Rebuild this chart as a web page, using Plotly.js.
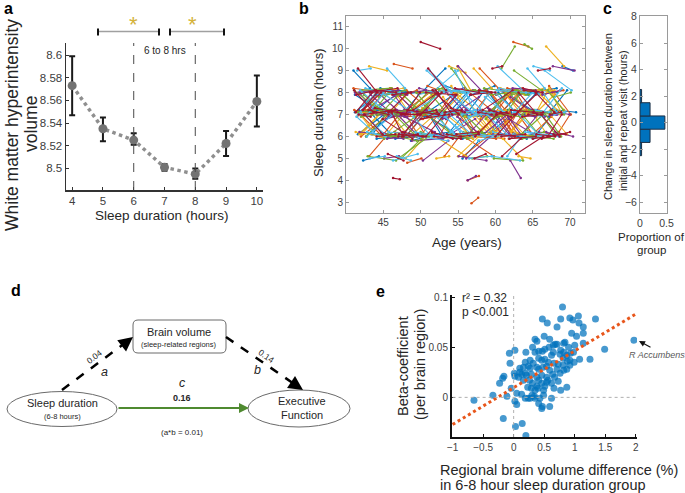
<!DOCTYPE html>
<html><head><meta charset="utf-8">
<script src="https://cdn.plot.ly/plotly-3.0.1.min.js"></script>
<style>html,body{margin:0;padding:0;background:#fff}</style>
</head><body><div id="chart" style="width:685px;height:493px"></div>
<script>
// ---------- Panel a ----------
const sleepHours = [4,5,6,7,8,9,10];
const wmhVolume  = [8.573,8.535,8.525,8.501,8.495,8.522,8.559];
const wmhErrUp   = [0.026,0.010,0.006,0.003,0.005,0.011,0.023];
const wmhErrDown = [0.026,0.011,0.004,0.003,0.004,0.011,0.022];
const aYTicks = [8.5,8.52,8.54,8.56,8.58,8.6];
const aYTickText = ['8.5','8.52','8.54','8.56','8.58','8.6'];

// ---------- Panel b (start age, years between visits, sleep at visit 1, sleep at visit 2) ----------
const ageStart = [
41.2,55.3,62.1,47.8,44.0,58.6,66.2,50.4,43.1,60.7,52.9,45.6,64.3,48.2,56.8,41.9,61.5,53.4,67.0,46.3,59.2,42.7,50.9,63.8,55.0,44.8,57.7,65.4,49.1,41.5,60.1,52.2,47.0,62.9,54.6,43.6,58.0,66.8,51.3,45.1,
56.4,42.3,61.0,48.9,64.9,53.0,44.4,59.9,50.0,67.5,41.0,57.1,46.9,62.5,52.6,43.9,60.4,55.7,48.5,65.8,42.0,58.9,51.8,63.2,45.9,54.1,61.8,47.4,66.4,50.7,41.7,59.5,53.8,44.2,62.2,49.6,46.3,64.6,46.1,55.9,
43.4,63.5,51.1,58.3,46.6,60.9,41.4,54.9,67.9,49.3,62.7,44.6,57.9,52.0,65.1,47.6,59.6,42.5,55.5,61.3,50.2,45.4,63.9,53.6,41.1,58.8,48.0,66.0,56.1,43.0,60.2,51.5,64.0,46.4,54.3,62.0,49.9,42.2,57.3,68.2,
60.6,45.3,53.2,41.6,64.4,56.7,48.7,62.6,43.8,58.4,51.0,66.6,44.9,55.2,61.6,47.2,59.0,42.9,53.9,65.5,50.6,57.6,41.3,62.0,46.0,54.4,60.0,48.4,67.2,52.4,44.1,60.8,62.4,49.0,55.6,42.1,61.1,47.9,65.9,51.9,
47.1,59.3,42.6,54.7,63.3,50.5,44.3,61.9,56.0,48.1,65.2,41.8,58.5,52.8,62.8,45.8,57.0,66.9,43.3,53.5,60.3,49.5,41.2,64.7,55.4,46.7,59.8,51.2,63.6,44.5,56.9,48.3,56.3,42.4,54.0,66.1,50.1,58.2,45.0,62.3,
52.5,41.9,60.8,47.5,56.2,64.1,43.7,58.7,50.8,62.1,45.2,55.8,67.3,48.8,59.4,42.8,53.3,61.7,46.5,57.2,50.3,63.4,44.7,54.8,60.5,56.8,57.8,49.8,65.0,52.1,50.0,59.1,47.3,62.8,55.1,66.5,45.7,51.6,58.9,42.0,
61.4,44.0,55.0,49.2,63.7,41.6,57.5,52.7,66.3,46.2,59.7,43.2,54.2,62.4,48.6,65.6,41.1,56.5,50.0,60.9,44.8,53.1,67.7,47.7,58.6,42.4,61.9,51.4,64.8,45.5,55.9,49.4,63.1,43.6,56.3,59.0,46.8,52.3,65.3,41.3,
42.1,48.3,53.7,59.2,64.6,45.5,50.9,56.3,61.8,67.2,43.8,49.2,54.6,60.1,65.5,46.7,52.1,57.6,63.0,41.4,47.9,53.3,58.8,64.2,44.6,50.0,55.5,60.9,66.3,42.9,48.8,54.2,59.7,65.1,46.1,51.5,57.0,62.4,68.0,44.2,
57.9,41.7,63.3,49.6,55.0,68.4,46.0,60.5,52.4,44.1,66.0,58.1,50.6,62.7,47.2,54.0,41.0,61.2,56.7,45.1,67.4,51.8,59.6,43.5,64.9,53.0,48.1,62.0,42.6,57.2,65.8,50.3,46.6,60.0,55.7,41.9,63.8,52.9,48.4,58.7,
45.8,61.5,53.9,43.0,66.7,50.1,58.4,41.3,63.6,55.9,47.6,69.0,52.2,60.2,44.9,57.3,49.0,64.4,42.3,54.7,62.9,46.4,59.0,51.2,67.0,43.7,56.1,61.0,48.7,65.2,41.6,53.5,58.9,45.0,63.1,50.8,55.3,42.8,60.7,47.3,
63.9,44.5,56.6,49.9,41.5,60.4,53.1,67.6,46.3,58.0,42.7,64.8,51.0,55.6,47.8,61.9,43.3,66.1,52.6,57.8,45.3,62.3,49.3,41.8,59.9,54.4,65.0,47.0,60.8,43.9,56.0,50.4,67.9,45.6,53.8,62.6,48.0,58.3,42.0,64.1,
50.7,42.5,59.4,65.3,47.1,55.2,61.6,44.0,52.8,68.5,57.5,41.2,63.4,49.7,46.9,54.5,60.6,43.1,66.6,51.6,58.6,45.7,62.1,48.2,41.9,56.4,64.5,53.4,47.4,59.1,44.4,67.1,50.0,61.3,55.8,42.2,63.0,48.9,57.1,45.9,
43.6,66.4,55.4,48.5,60.3,41.8,57.0,52.3,64.0,46.2,59.8,44.8,62.8,50.5,56.9,42.4,65.7,53.6,47.7,61.4,45.4,58.2,51.4,67.3,43.4,60.0,54.9,49.5,63.6,46.8,41.4,56.2,62.0,50.2,58.8,44.3,65.4,52.0,48.0,61.1,
58.5,44.7,51.9,62.5,47.5,65.9,41.1,55.1,60.7,49.1,43.2,57.7,64.3,52.5,46.5,61.7,54.1,42.9,67.8,50.9,59.3,45.2,63.2,48.6,56.5,41.6,62.2,53.2,46.0,66.8,49.4,58.1,44.1,60.1,55.0,42.1,64.7,51.2,57.4,47.0];
const visitGap = [
2.8,3.5,2.2,4.1,3.0,2.5,3.8,4.5,2.0,3.2,2.6,3.9,2.3,4.2,3.1,2.7,3.6,4.4,2.1,3.3,2.9,3.7,2.4,4.0,3.4,2.2,3.8,2.5,4.3,3.0,2.6,3.5,4.1,2.8,3.2,2.0,3.9,2.4,3.6,4.2,
3.1,2.4,3.9,2.7,2.2,4.3,3.5,2.9,3.8,2.1,4.0,3.2,2.5,3.7,2.8,4.4,2.3,3.3,3.0,2.6,4.1,2.9,3.6,2.4,3.4,2.0,3.8,2.7,2.5,3.9,4.2,3.0,2.2,3.5,2.9,4.0,0.9,2.6,3.3,3.7,
3.6,2.9,2.3,4.0,3.3,2.6,4.5,3.1,2.2,3.8,2.7,3.4,2.5,4.1,3.0,2.8,3.7,2.4,3.9,2.1,3.2,4.2,1.0,3.5,2.6,3.0,4.3,2.7,3.6,2.3,3.9,2.8,3.4,2.5,4.0,3.1,2.2,3.7,2.9,2.6,
2.5,3.7,3.0,2.3,4.1,2.8,3.4,2.6,3.9,3.2,2.4,3.6,4.0,2.9,2.7,3.3,2.2,3.8,3.1,2.5,4.2,2.6,3.5,1.4,2.8,3.9,3.0,2.4,2.9,3.6,4.1,1.8,2.7,3.3,2.2,3.8,3.0,2.5,3.4,3.1,
3.3,2.6,3.8,3.0,2.4,4.0,2.9,3.5,2.2,3.9,2.7,3.2,4.3,2.5,3.6,2.8,3.1,2.3,4.1,2.9,3.4,2.6,3.7,2.8,3.0,2.4,3.9,3.3,2.7,3.5,2.2,3.8,1.1,2.9,3.6,2.5,3.2,4.0,2.6,3.1,
2.7,3.9,3.2,2.5,3.6,2.4,4.1,2.8,3.3,3.0,2.6,3.7,2.3,4.0,2.9,3.5,2.2,3.1,3.8,2.7,3.4,2.5,4.2,2.9,3.2,0.9,3.6,2.4,2.8,3.9,2.6,3.0,4.3,2.5,3.7,2.3,3.1,3.5,2.7,3.8,
3.4,2.8,3.1,3.9,2.6,3.5,2.3,4.0,2.4,3.2,2.9,3.7,2.5,2.0,3.6,2.7,4.1,3.0,2.8,3.3,2.2,3.8,2.9,3.5,2.6,4.2,3.0,2.4,3.1,3.6,2.7,3.9,2.5,3.4,1.5,3.0,2.8,3.3,2.6,2.2,
1.8,2.2,1.5,2.6,1.9,2.4,1.3,2.0,2.7,1.6,2.3,1.9,2.5,1.4,2.1,2.8,1.7,2.2,1.5,2.6,2.0,1.8,2.4,1.3,2.9,1.6,2.1,2.5,1.9,2.3,1.4,2.7,1.8,2.2,1.6,2.5,2.0,1.7,2.4,2.1,
2.2,1.6,2.5,1.9,2.8,1.5,2.1,1.8,2.4,2.6,1.7,2.3,2.0,1.4,2.7,1.9,2.2,1.6,2.5,2.0,1.8,2.4,1.3,2.8,2.1,1.7,2.6,1.9,2.3,1.5,2.0,2.4,1.8,2.2,2.6,1.4,2.5,1.9,2.1,1.7,
2.4,1.9,2.1,2.7,1.6,2.3,1.8,2.5,2.0,1.5,2.6,1.4,2.2,1.9,2.8,1.7,2.4,2.0,2.1,1.6,2.5,1.8,2.3,2.7,1.9,2.2,1.5,2.6,2.0,1.8,2.4,1.7,2.1,2.9,1.6,2.3,1.9,2.5,1.8,2.2,
1.7,2.3,2.0,2.6,1.8,2.2,2.5,1.5,2.1,1.9,2.7,1.6,2.4,2.0,1.8,2.3,2.6,1.9,1.7,2.2,2.5,1.8,2.1,2.4,1.6,2.0,2.3,2.8,1.7,2.2,1.9,2.5,1.4,2.1,2.4,1.8,2.6,2.0,2.3,1.7,
2.5,1.9,2.2,1.6,2.4,2.0,1.8,2.7,2.1,1.5,2.3,2.6,1.9,2.2,1.7,2.5,2.0,2.4,1.6,2.1,1.8,2.6,2.3,1.9,2.0,2.4,1.7,2.2,2.5,1.8,2.1,1.6,2.3,2.0,2.7,1.9,2.2,1.8,2.4,2.0,
2.1,1.8,2.4,2.0,1.6,2.6,2.2,1.9,2.3,2.5,1.7,2.1,2.4,1.8,2.0,2.7,1.6,2.2,2.5,1.9,2.3,1.7,2.0,1.5,2.6,2.1,1.8,2.4,2.2,1.9,2.5,2.0,1.7,2.3,2.1,2.6,1.8,2.2,2.4,1.9,
2.3,2.0,1.7,2.5,2.2,1.6,2.4,1.9,2.1,2.6,2.0,1.8,2.3,1.5,2.7,1.9,2.2,2.4,1.6,2.0,1.8,2.5,2.1,2.3,1.9,2.6,1.7,2.2,2.4,1.8,2.0,2.3,2.5,1.9,2.1,2.4,1.6,2.2,1.8,2.6];
const sleepVisit1 = [
7.1,8.0,6.2,6.9,7.3,7.8,5.9,7.0,5.1,8.2,6.8,6.1,9.1,7.2,7.9,7.0,6.3,6.8,8.1,4.9,7.2,6.0,8.3,6.9,9.2,7.1,5.8,8.0,7.3,6.9,6.2,7.9,5.0,7.1,8.2,6.1,6.8,10.1,7.0,5.9,
6.9,7.2,8.1,6.0,7.1,5.9,7.8,8.0,6.8,7.2,8.2,6.1,7.0,9.0,6.9,7.3,8.0,5.1,7.1,6.2,8.1,7.0,6.0,7.9,7.2,8.3,6.8,5.0,7.1,8.0,7.2,6.1,9.2,7.0,7.9,6.0,4.1,7.1,8.2,6.9,
8.0,6.1,7.0,7.2,5.9,8.1,7.1,6.9,7.8,6.2,7.0,8.2,9.1,6.0,7.2,7.9,5.1,7.0,6.1,8.0,7.3,6.8,10.2,7.1,8.1,6.0,6.9,7.9,5.0,7.2,8.1,6.2,7.0,9.3,6.1,7.8,7.1,8.0,6.0,7.2,
7.0,6.0,8.1,7.1,6.2,7.9,5.8,7.2,8.0,6.1,7.1,9.0,6.8,7.0,8.2,6.0,7.3,5.1,7.9,6.1,7.0,8.0,6.2,4.9,7.1,8.1,6.0,7.2,8.3,6.9,7.0,9.1,6.1,7.2,5.0,8.0,7.1,6.2,7.0,8.1,
6.1,7.0,7.2,8.0,6.0,7.1,7.9,5.9,6.9,8.1,7.0,6.2,8.2,7.1,5.2,7.0,6.0,8.1,7.2,6.1,9.2,7.0,7.9,6.0,7.1,8.0,5.0,7.2,6.9,8.1,6.0,7.1,4.0,7.9,6.2,7.0,8.0,6.1,7.2,8.2,
7.2,8.1,6.0,7.0,5.9,8.0,7.1,6.8,9.0,7.2,6.1,8.2,7.0,5.8,7.9,6.0,7.1,8.1,6.2,7.0,4.9,7.2,8.0,6.1,7.0,2.95,7.1,8.2,6.0,7.2,10.3,6.9,7.0,8.0,5.1,7.1,6.2,8.1,7.0,6.0,
8.0,7.1,6.0,7.2,8.2,6.1,7.0,5.9,7.9,7.1,6.2,8.0,7.0,10.3,6.0,7.2,8.1,5.0,7.0,6.1,7.9,7.1,9.2,6.0,8.0,7.0,6.2,7.2,8.1,5.9,7.0,6.1,8.0,7.1,4.0,6.9,7.2,8.2,6.0,7.1,
7.0,6.1,7.9,7.2,6.0,9.1,6.9,7.1,5.9,8.2,7.3,6.2,9.0,7.0,6.1,7.8,5.0,7.2,8.1,6.9,7.0,8.3,6.0,7.1,7.9,6.2,7.0,5.1,8.1,7.2,6.0,7.9,6.8,9.2,7.1,6.1,7.0,8.0,6.2,7.3,
6.1,7.0,7.2,8.0,5.1,7.1,6.0,8.2,7.0,5.9,7.9,6.2,7.1,8.1,6.0,7.3,9.0,6.1,7.0,5.0,7.2,6.9,9.1,7.0,6.0,7.8,6.1,7.2,8.2,5.0,7.0,6.8,8.0,7.1,6.2,7.0,8.1,6.0,7.2,6.9,
8.0,7.1,6.0,7.2,8.1,6.1,7.0,7.9,5.9,7.1,6.2,9.2,7.0,6.0,7.2,8.1,6.9,7.0,4.9,7.1,6.1,7.9,7.0,9.0,6.0,7.1,6.9,5.9,8.0,7.2,7.0,6.1,8.1,7.0,5.1,7.2,8.0,6.2,7.1,7.9,
7.2,6.0,7.9,7.0,9.0,6.1,7.1,8.0,6.9,7.2,6.0,7.0,9.1,5.9,7.1,6.2,7.9,7.0,6.0,8.1,7.0,6.1,7.2,8.0,6.9,7.1,5.9,8.1,7.0,6.1,7.2,8.0,7.0,5.2,7.1,8.1,5.0,7.0,6.9,8.0,
6.0,7.1,8.0,7.0,6.1,7.2,5.1,8.1,7.0,6.2,7.1,8.0,6.0,7.9,7.1,6.1,7.0,9.2,6.9,7.2,6.0,7.1,8.0,4.8,7.0,6.1,7.2,8.1,7.0,6.0,7.9,7.1,6.1,7.0,8.0,7.2,6.0,7.1,9.1,6.9,
7.1,8.0,6.0,7.2,7.0,6.1,8.1,7.0,6.2,7.9,7.1,6.0,8.0,7.2,5.0,7.0,9.0,6.1,7.1,7.9,6.0,7.2,8.0,7.0,6.1,7.1,9.2,6.0,7.0,5.1,7.9,7.1,6.2,8.0,7.0,6.1,7.2,8.1,6.0,7.0,
7.0,6.2,8.0,7.1,6.0,7.9,7.2,6.1,8.1,7.0,5.0,7.1,8.0,6.0,7.2,6.9,9.1,7.0,6.1,7.1,8.0,6.0,7.0,7.2,6.1,9.1,7.0,5.1,7.1,6.2,8.0,7.0,6.0,7.9,7.1,6.1,7.2,8.0,7.0,6.0];
const sleepVisit2 = [
7.9,8.1,7.0,6.2,7.0,7.1,6.2,8.0,5.9,7.9,7.1,5.8,8.2,7.0,8.3,6.1,6.0,7.8,7.2,5.2,6.9,7.1,8.0,7.2,8.0,7.9,6.1,7.1,6.8,8.0,7.0,8.2,6.0,6.1,8.0,7.2,7.9,9.2,7.2,6.9,
7.1,8.0,7.2,6.1,6.0,6.8,8.1,7.1,7.0,8.1,8.0,6.9,6.1,8.1,7.2,7.0,7.1,6.0,7.9,6.1,8.2,6.0,5.9,8.0,7.1,7.2,6.0,5.9,8.2,7.9,6.9,7.0,8.9,7.1,8.1,5.8,4.05,6.9,7.1,7.0,
8.1,7.0,6.9,8.1,6.0,7.2,7.0,6.1,8.0,6.0,7.9,8.0,8.2,5.1,7.0,7.0,4.9,6.1,6.2,8.2,7.1,7.2,10.0,6.0,7.1,6.9,7.0,7.1,6.1,7.0,8.0,5.9,7.1,9.1,6.0,7.1,8.0,8.1,7.0,7.1,
8.0,6.1,7.0,7.2,6.0,8.0,6.1,6.0,8.2,7.0,7.0,8.1,5.9,6.9,8.0,7.1,7.0,4.9,7.1,6.0,6.1,7.9,6.0,4.1,7.2,8.0,7.1,6.9,7.0,8.1,6.9,10.1,5.9,8.0,5.8,8.2,6.0,7.1,7.1,9.0,
6.0,8.1,7.0,7.1,7.0,6.0,8.0,6.0,7.1,7.0,7.9,6.1,8.0,6.2,6.0,7.1,5.9,7.2,8.0,5.9,8.1,7.2,7.1,6.9,7.0,7.2,4.9,6.1,7.0,8.0,6.1,8.0,4.2,7.0,7.1,6.0,9.1,6.0,7.0,8.1,
7.0,7.0,6.1,8.0,5.1,8.2,7.0,7.9,8.0,7.1,6.0,7.2,6.1,5.9,8.0,7.0,7.2,8.0,6.0,6.0,5.8,7.0,7.1,6.2,8.1,3.2,7.2,8.0,5.9,6.1,10.0,7.1,8.1,8.1,4.9,6.0,6.1,7.0,7.2,7.0,
7.1,7.0,6.2,8.0,8.0,7.0,6.9,6.1,8.1,6.0,6.0,8.2,7.9,10.1,7.1,7.0,7.0,5.1,8.0,5.9,8.0,6.0,9.0,6.1,7.1,7.2,6.0,7.0,8.1,6.0,6.1,6.0,7.0,8.0,4.2,7.0,7.1,8.0,6.1,8.0,
7.1,7.0,8.0,6.1,6.2,8.2,7.1,8.0,6.0,7.1,7.0,6.0,7.2,7.1,7.0,8.1,5.1,7.0,7.9,6.1,8.0,8.1,5.9,6.9,7.0,6.0,7.1,5.9,8.2,8.0,6.1,7.0,7.0,9.0,6.0,6.2,7.9,7.1,6.0,7.2,
6.0,6.9,8.1,8.0,6.0,7.0,6.1,8.1,7.9,6.0,8.0,7.1,7.0,7.9,6.1,7.1,8.2,7.0,6.1,5.1,7.0,7.1,9.2,6.0,6.1,7.0,6.0,7.1,8.0,5.2,7.2,7.0,7.1,6.0,6.1,8.0,8.0,5.9,7.0,6.0,
7.9,8.0,6.1,7.0,8.0,7.0,6.0,8.1,6.0,7.2,6.0,9.0,8.0,6.9,7.0,8.0,6.0,7.1,5.1,6.1,6.0,7.1,7.9,8.1,7.0,7.0,6.1,5.0,8.1,7.1,8.0,6.0,7.1,7.2,5.0,6.1,8.1,6.0,7.0,8.0,
7.0,6.1,8.0,8.1,9.1,6.0,7.0,8.1,6.0,7.1,7.0,6.9,8.1,6.1,6.1,7.0,7.1,6.1,6.2,8.0,7.2,6.0,7.0,7.0,7.1,8.0,6.0,8.0,6.1,6.0,7.0,8.2,7.1,4.9,8.0,7.1,6.0,6.9,7.0,7.9,
7.0,7.2,7.1,8.0,6.0,6.1,6.0,8.0,7.9,7.0,6.1,8.1,6.0,8.1,7.0,5.9,6.0,9.0,7.0,7.1,6.1,8.0,7.9,5.0,6.1,7.0,7.1,8.0,7.0,7.1,8.0,7.0,6.0,6.9,7.1,8.0,6.1,6.0,8.2,7.0,
8.0,7.1,6.1,6.9,7.1,7.0,8.0,6.0,6.0,8.0,7.0,6.9,8.1,7.0,5.1,6.1,9.1,7.0,7.2,7.1,5.9,7.0,8.1,7.1,6.0,8.0,8.1,6.1,6.1,4.9,8.1,7.0,7.0,7.9,6.1,6.0,7.1,7.0,7.0,6.1,
6.1,6.0,8.1,8.0,7.0,8.0,7.0,5.9,8.0,7.1,5.1,7.0,7.9,7.0,7.1,6.0,8.1,8.1,6.1,6.0,7.1,7.0,6.9,8.0,6.0,8.0,7.0,6.1,8.0,6.0,7.2,7.1,6.1,8.1,6.1,7.0,7.0,7.1,8.0,6.1];

// ---------- Panel c ----------
const changeBins = [-2,-1,0,1,2];
const changeProp = [0.03,0.19,0.47,0.19,0.03];

// ---------- Panel e ----------
const volDiff = [0.80,1.06,0.92,0.77,1.34,0.47,0.55,0.97,1.07,1.14,0.71,0.35,0.38,0.50,0.59,0.95,1.14,1.03,0.68,0.71,
0.82,0.84,1.00,1.14,1.49,1.97,0.02,-0.07,0.20,0.41,0.47,0.31,0.58,0.65,0.77,0.90,0.93,0.76,0.62,0.41,
0.46,0.51,0.57,0.81,1.08,1.25,0.99,0.88,0.92,0.81,0.73,0.66,-0.06,0.24,0.27,0.16,0.10,0.38,0.41,0.48,
0.54,0.59,0.71,0.87,0.01,0.02,0.08,0.13,0.21,0.29,0.38,0.46,0.54,0.64,-0.16,-0.18,-0.23,0.16,0.26,0.31,
0.38,0.46,0.54,0.73,0.87,0.77,0.66,0.51,0.23,0.29,-0.04,-0.11,-0.34,-0.65,0.05,0.13,0.19,0.27,0.34,0.49,
0.49,0.43,0.62,0.41,0.47,0.46,0.59,0.02,0.05,-0.17,0.14,0.03,0.20,0.30,0.35,0.40,0.56,0.62,0.67,0.76,
0.82,0.92,0.87,0.82,0.98,0.65,0.51,0.35,0.27,0.32,0.19,0.10,0.19,0.41,0.35,0.24];
const betaCoef = [0.090,0.081,0.079,0.078,0.078,0.078,0.074,0.077,0.074,0.070,0.070,0.058,0.056,0.061,0.058,0.064,0.064,0.061,0.053,0.053,
0.054,0.055,0.052,0.054,0.048,0.057,0.047,0.044,0.045,0.046,0.046,0.050,0.050,0.052,0.047,0.050,0.044,0.043,0.042,0.039,
0.037,0.038,0.035,0.039,0.038,0.038,0.035,0.036,0.032,0.032,0.033,0.034,0.034,0.031,0.029,0.030,0.029,0.030,0.028,0.030,
0.031,0.027,0.028,0.028,0.024,0.021,0.020,0.023,0.022,0.023,0.020,0.022,0.020,0.023,0.021,0.019,0.014,0.017,0.017,0.014,
0.011,0.014,0.015,0.016,0.010,0.007,0.009,0.011,0.010,0.009,0.009,0.001,0.002,-0.003,0.004,0.003,-0.001,-0.001,0.001,0.007,
0.002,-0.001,-0.001,-0.006,-0.009,-0.011,-0.009,-0.004,-0.007,-0.021,-0.026,-0.029,-0.038,0.002,0.007,0.009,0.017,0.014,0.020,0.024,
0.027,0.037,0.042,0.045,0.045,0.045,0.048,0.045,0.037,0.034,0.035,0.025,0.024,0.017,-0.001,-0.001];
const fitX = [-1, 2];
const fitY = [-0.027, 0.083];

// ---------- helpers ----------
const W = 685, H = 493;
const px = x => x / W, py = y => 1 - y / H;
const FONT = 'Liberation Sans, Arial, sans-serif';
const TXT = '#262626';
const matlab = ['#0072BD','#D95319','#EDB120','#7E2F8E','#77AC30','#4DBEEE','#A2142F'];

const traces = [];
// panel a
traces.push({
  type:'scatter', mode:'lines+markers', x:sleepHours, y:wmhVolume, xaxis:'x', yaxis:'y',
  line:{color:'#8f8f8f', width:3.5, dash:'dot'},
  marker:{color:'#737373', size:9},
  error_y:{type:'data', symmetric:false, array:wmhErrUp, arrayminus:wmhErrDown, color:'#1a1a1a', thickness:2, width:3},
  hoverinfo:'skip', showlegend:false
});
// panel b
const bx = matlab.map(()=>[]), by = matlab.map(()=>[]);
for (let i = 0; i < ageStart.length; i++) {
  const g = i % matlab.length;
  bx[g].push(ageStart[i], ageStart[i] + visitGap[i], null);
  by[g].push(sleepVisit1[i], sleepVisit2[i], null);
}
matlab.forEach((c, g) => traces.push({
  type:'scatter', mode:'lines+markers', x:bx[g], y:by[g], xaxis:'x2', yaxis:'y2',
  line:{color:c, width:1.1}, marker:{color:c, size:2.5}, connectgaps:false,
  hoverinfo:'skip', showlegend:false
}));
// panel c
traces.push({
  type:'bar', orientation:'h', y:changeBins, x:changeProp, width:1, xaxis:'x3', yaxis:'y3',
  marker:{color:'#0072BD', line:{color:'#1c2e44', width:1}}, hoverinfo:'skip', showlegend:false
});
// panel e
traces.push({
  type:'scatter', mode:'markers', x:volDiff, y:betaCoef, xaxis:'x4', yaxis:'y4',
  marker:{color:'rgba(0,114,189,0.72)', size:7}, hoverinfo:'skip', showlegend:false
});
traces.push({
  type:'scatter', mode:'lines', x:fitX, y:fitY, xaxis:'x4', yaxis:'y4',
  line:{color:'#E8561B', width:3, dash:'dot'}, hoverinfo:'skip', showlegend:false
});

function ax(o) {
  return Object.assign({showgrid:false, zeroline:false, showline:true, ticks:'inside', ticklen:3,
    linecolor:'#333', tickcolor:'#333', linewidth:1, fixedrange:true,
    tickfont:{family:FONT, size:10, color:'#404040'}}, o);
}

const ann = [];
function txt(x, y, text, o) {
  ann.push(Object.assign({xref:'paper', yref:'paper', x:px(x), y:py(y), text:text, showarrow:false,
    xanchor:'center', yanchor:'middle', font:{family:FONT, size:12, color:TXT}}, o || {}));
}
function arrow(hx, hy, axp, ayp, color, width, size) {
  ann.push({xref:'paper', yref:'paper', x:px(hx), y:py(hy), ax:axp, ay:ayp, text:'', showarrow:true,
    arrowhead:2, arrowsize:size || 1, arrowwidth:width, arrowcolor:color});
}
// panel letters
txt(8.5, 9, '<b>a</b>', {font:{family:FONT, size:16, color:'#000'}});
txt(304, 9, '<b>b</b>', {font:{family:FONT, size:16, color:'#000'}});
txt(607, 9, '<b>c</b>', {font:{family:FONT, size:16, color:'#000'}});
txt(16, 290, '<b>d</b>', {font:{family:FONT, size:16, color:'#000'}});
txt(380, 291, '<b>e</b>', {font:{family:FONT, size:16, color:'#000'}});
// panel a texts
txt(12, 125, 'White matter hyperintensity', {textangle:-90, font:{family:FONT, size:17.5, color:TXT}});
txt(31, 124, 'volume', {textangle:-90, font:{family:FONT, size:17.5, color:TXT}});
txt(162, 215, 'Sleep duration (hours)', {font:{family:FONT, size:13.5, color:TXT}});
txt(165, 51, '6 to 8 hrs', {font:{family:FONT, size:10, color:TXT}});
txt(133, 25, '*', {font:{family:FONT, size:22, color:'#D4B23A'}});
txt(192, 25, '*', {font:{family:FONT, size:22, color:'#D4B23A'}});
// panel b texts
txt(318, 113, 'Sleep duration (hours)', {textangle:-90, font:{family:FONT, size:13, color:TXT}});
txt(467, 242, 'Age (years)', {font:{family:FONT, size:13.5, color:TXT}});
// panel c texts
txt(608, 117, 'Change in sleep duration between', {textangle:-90, font:{family:FONT, size:11, color:TXT}});
txt(623, 121, 'initial and repeat visit (hours)', {textangle:-90, font:{family:FONT, size:11, color:TXT}});
txt(651, 237, 'Proportion of', {font:{family:FONT, size:11.5, color:TXT}});
txt(651, 250, 'group', {font:{family:FONT, size:11.5, color:TXT}});
// panel d texts
txt(62, 403, 'Sleep duration', {font:{family:FONT, size:11, color:TXT}});
txt(62, 416, '(6-8 hours)', {font:{family:FONT, size:7.5, color:TXT}});
txt(302, 401, 'Executive', {font:{family:FONT, size:11, color:TXT}});
txt(302, 415, 'Function', {font:{family:FONT, size:11, color:TXT}});
txt(179, 332, 'Brain volume', {font:{family:FONT, size:11, color:TXT}});
txt(179, 344, '(sleep-related regions)', {font:{family:FONT, size:7.5, color:TXT}});
txt(94, 357, '0.04', {textangle:-37, font:{family:FONT, size:8.5, color:TXT}});
txt(104, 372, '<i>a</i>', {font:{family:FONT, size:12.5, color:TXT}});
txt(266, 356, '0.14', {textangle:35, font:{family:FONT, size:8.5, color:TXT}});
txt(257, 370, '<i>b</i>', {font:{family:FONT, size:12.5, color:TXT}});
txt(182, 383, '<i>c</i>', {font:{family:FONT, size:12.5, color:TXT}});
txt(182, 398, '<b>0.16</b>', {font:{family:FONT, size:9, color:TXT}});
txt(182, 432, '(a*b = 0.01)', {font:{family:FONT, size:8, color:TXT}});
arrow(133, 337, -9, 7, '#000', 2.5, 1.15);
arrow(303, 390, -9, -6, '#000', 2.5, 1.15);
arrow(249, 408, -132, 0, '#4f8a30', 2, 1);
// panel e texts
txt(460, 298, 'r² = 0.32', {xanchor:'left', font:{family:FONT, size:12, color:TXT}});
txt(460, 312, 'p &lt;0.001', {xanchor:'left', font:{family:FONT, size:12, color:TXT}});
txt(627, 355, '<i>R Accumbens</i>', {xanchor:'left', font:{family:FONT, size:9, color:'#595959'}});
arrow(639, 341, 13, 7, '#111', 1.2, 1);
txt(403, 366, 'Beta-coefficient', {textangle:-90, font:{family:FONT, size:14.5, color:TXT}});
txt(420, 365, '(per brain region)', {textangle:-90, font:{family:FONT, size:14.5, color:TXT}});
txt(438, 470, 'Regional brain volume difference (%)', {xanchor:'left', font:{family:FONT, size:14.5, color:TXT}});
txt(438, 484.5, 'in 6-8 hour sleep duration group', {xanchor:'left', font:{family:FONT, size:14.5, color:TXT}});

// shapes
const shapes = [];
function pline(x0,y0,x1,y1,color,width,dash) {
  shapes.push({type:'line', xref:'paper', yref:'paper', x0:px(x0), y0:py(y0), x1:px(x1), y1:py(y1),
    line:{color:color, width:width, dash:dash||'solid'}});
}
// panel a: 6-8 h guide lines
[6, 8].forEach(v => shapes.push({type:'line', xref:'x', yref:'paper', x0:v, x1:v, y0:py(190), y1:py(43),
  line:{color:'#4a4a4a', width:1, dash:'dash'}}));
// significance brackets
pline(98,31.5,159,31.5,'#a0a0a0',1.5); pline(98,28.5,98,35.5,'#111',2); pline(159,28.5,159,35.5,'#111',2);
pline(170,31.5,224,31.5,'#a0a0a0',1.5); pline(170,28.5,170,35.5,'#111',2); pline(224,28.5,224,35.5,'#111',2);
// panel e reference lines
shapes.push({type:'line', xref:'x4', yref:'y4', x0:0, x1:0, y0:-0.0395, y1:0.102, line:{color:'#b0b0b0', width:1, dash:'dot'}});
shapes.push({type:'line', xref:'x4', yref:'y4', x0:-1, x1:2, y0:0, y1:0, line:{color:'#b0b0b0', width:1, dash:'dot'}});
// panel d diagram
function ell(cx, cy, rx, ry) {
  shapes.push({type:'circle', xref:'paper', yref:'paper', x0:px(cx-rx), x1:px(cx+rx), y0:py(cy+ry), y1:py(cy-ry),
    line:{color:'#6a6a6a', width:1}, fillcolor:'rgba(0,0,0,0)'});
}
ell(62, 409, 55, 17.5);
ell(299, 408.5, 51, 18.5);
(function(){
  const x0=133,x1=226,y0=320,y1=353,r=5;
  const P=(x,y)=>px(x)+','+py(y);
  const path='M'+P(x0+r,y0)+' L'+P(x1-r,y0)+' Q'+P(x1,y0)+' '+P(x1,y0+r)+' L'+P(x1,y1-r)+' Q'+P(x1,y1)+' '+P(x1-r,y1)+
    ' L'+P(x0+r,y1)+' Q'+P(x0,y1)+' '+P(x0,y1-r)+' L'+P(x0,y0+r)+' Q'+P(x0,y0)+' '+P(x0+r,y0)+' Z';
  shapes.push({type:'path', xref:'paper', yref:'paper', path:path, line:{color:'#6a6a6a', width:1}, fillcolor:'rgba(0,0,0,0)'});
})();
pline(62,390,126.6,341.8,'#000',2.5,'dash');
pline(226,337,296.4,385.5,'#000',2.5,'dash');

const layout = {
  width:W, height:H, autosize:false, margin:{l:0,r:0,t:0,b:0},
  paper_bgcolor:'#fff', plot_bgcolor:'rgba(0,0,0,0)', showlegend:false,
  font:{family:FONT, color:TXT},
  xaxis: ax({domain:[px(66), px(263)], range:[3.8,10.2], tickvals:sleepHours, anchor:'y', linewidth:1.5,
    tickfont:{family:FONT, size:11.5, color:'#404040'}}),
  yaxis: ax({domain:[py(190), py(43)], range:[8.481,8.6106], tickvals:aYTicks, ticktext:aYTickText, anchor:'x', linewidth:1.5,
    tickfont:{family:FONT, size:11.5, color:'#404040'}}),
  xaxis2: ax({domain:[px(346), px(585)], range:[40,72], tickvals:[45,50,55,60,65,70], anchor:'y2', mirror:'ticks',
    linecolor:'#9a9a9a', tickcolor:'#9a9a9a'}),
  yaxis2: ax({domain:[py(213), py(16)], range:[2.51,11.49], tickvals:[3,4,5,6,7,8,9,10,11], anchor:'x2', mirror:'ticks',
    linecolor:'#9a9a9a', tickcolor:'#9a9a9a'}),
  xaxis3: ax({domain:[px(640), px(667)], range:[0,0.51], tickvals:[0,0.5], ticktext:['0','0.5'], anchor:'y3', mirror:'ticks',
    linecolor:'#9a9a9a', tickcolor:'#9a9a9a', tickfont:{family:FONT, size:10.5, color:'#404040'}}),
  yaxis3: ax({domain:[py(213), py(16)], range:[-6.83,8.05], tickvals:[-6,-4,-2,0,2,4,6,8], anchor:'x3', mirror:'ticks',
    linecolor:'#9a9a9a', tickcolor:'#9a9a9a', tickfont:{family:FONT, size:10.5, color:'#404040'}}),
  xaxis4: ax({domain:[px(452), px(637)], range:[-1.01,2.02], tickvals:[-1,-0.5,0,0.5,1,1.5,2], anchor:'y4',
    linecolor:'#111', tickcolor:'#111', linewidth:2}),
  yaxis4: ax({domain:[py(437), py(295)], range:[-0.0395,0.102], tickvals:[0,0.05,0.1], ticktext:['0','0.05','0.1'], anchor:'x4',
    linecolor:'#111', tickcolor:'#111', linewidth:2}),
  shapes:shapes, annotations:ann
};

Plotly.newPlot('chart', traces, layout, {displayModeBar:false, staticPlot:true});
</script></body></html>
